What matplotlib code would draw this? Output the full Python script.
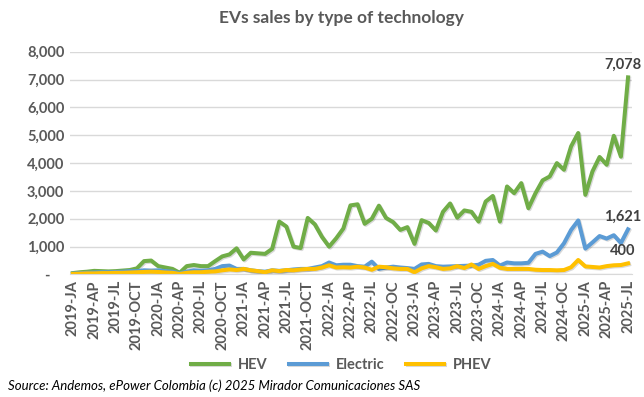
import matplotlib
matplotlib.use("Agg")
import matplotlib.pyplot as plt
import matplotlib.patheffects as pe
import numpy as np

plt.rcParams['font.family'] = ['Lato', 'DejaVu Sans']

hev = [50, 80, 100, 130, 120, 110, 120, 140, 160, 220, 480, 500,
       300, 250, 200, 60, 300, 340, 300, 300, 480, 650, 720, 940,
       540, 780, 760, 740, 920, 1900, 1720, 1000, 950, 2030, 1800, 1350,
       1000, 1300, 1650, 2480, 2520, 1820, 2000, 2470, 2030, 1880, 1600, 1700,
       1100, 1950, 1850, 1580, 2250, 2550, 2040, 2300, 2250, 1900, 2620, 2820,
       1900, 3160, 2920, 3280, 2380, 2920, 3380, 3520, 4000, 3760, 4600, 5080,
       2860, 3700, 4220, 3940, 4980, 4230, 7078]
electric = [30, 50, 60, 70, 80, 80, 90, 100, 120, 120, 150, 140,
            150, 120, 100, 40, 100, 150, 130, 150, 200, 300, 320, 200,
            200, 150, 120, 100, 150, 130, 150, 180, 200, 200, 250, 300,
            430, 330, 350, 350, 300, 280, 460, 200, 250, 280, 250, 230,
            200, 360, 380, 300, 280, 290, 300, 310, 320, 350, 490, 520,
            320, 430, 400, 400, 420, 740, 820, 660, 790, 1120, 1600, 1940,
            930, 1150, 1380, 1290, 1410, 1130, 1621]
phev = [20, 30, 40, 40, 50, 50, 60, 60, 70, 80, 90, 100,
        90, 70, 60, 20, 60, 80, 80, 100, 110, 150, 180, 160,
        200, 150, 120, 80, 150, 120, 160, 150, 180, 200, 200, 250,
        330, 250, 260, 250, 280, 250, 170, 280, 260, 220, 200, 200,
        80, 220, 300, 260, 200, 220, 300, 230, 360, 200, 300, 380,
        240, 200, 200, 200, 200, 170, 160, 160, 150, 160, 260, 520,
        290, 270, 250, 300, 330, 340, 400]

tick_labels = ["2019-JA", "2019-AP", "2019-JL", "2019-OCT",
               "2020-JA", "2020-AP", "2020-JL", "2020-OCT",
               "2021-JA", "2021-AP", "2021-JL", "2021-OCT",
               "2022-JA", "2022-AP", "2022-JL", "2022-OC",
               "2023-JA", "2023-AP", "2023-JL", "2023-OC",
               "2024-JA", "2024-AP", "2024-JL", "2024-OC",
               "2025-JA", "2025-AP", "2025-JL"]

series = [("HEV", hev, "#70AD47"), ("Electric", electric, "#5B9BD5"),
          ("PHEV", phev, "#FFC000")]
txt = "#595959"

fig = plt.figure(figsize=(6.44, 3.97), dpi=100)
ax = fig.add_axes([0.1087, 0.3086, 0.8727, 0.5612])

x = np.arange(len(hev))
shadow = [pe.SimpleLineShadow(offset=(0.8, -0.8), alpha=0.15), pe.Normal()]
for name, vals, col in series:
    ax.plot(x, vals, color=col, lw=2.9, label=name, solid_joinstyle='round',
            path_effects=shadow)

ax.set_xlim(-0.4, len(hev) - 1 + 0.56)
ax.set_ylim(0, 8000)
yt = np.arange(0, 8001, 1000)
ax.set_yticks(yt)
ax.set_yticklabels(["-    "] + [f"{v:,}" for v in yt[1:]], color=txt,
                   fontsize=10.5, fontweight='bold')
ax.set_xticks(x[::3])
ax.set_xticklabels(tick_labels, rotation=90, color=txt, fontsize=10.5,
                   fontweight='bold')
ax.tick_params(length=0, pad=4)
ax.grid(axis='y', color='#D9D9D9', lw=1)
ax.set_axisbelow(True)
for s in ['top', 'right', 'left']:
    ax.spines[s].set_visible(False)
ax.spines['bottom'].set_color('#D9D9D9')

# last value labels
for name, vals, col in series:
    ax.annotate(f"{vals[-1]:,}", (x[-1], vals[-1]), xytext=(-4, 4),
                textcoords='offset points', ha='center', va='bottom',
                fontsize=10.5, fontweight='bold', color='#404040')

fig.text(0.53, 0.955, "EVs sales by type of technology", ha='center',
         va='center', fontsize=12.5, fontweight='bold', color=txt)
fig.legend(loc='center', bbox_to_anchor=(0.53, 0.08), ncol=3, frameon=False,
           prop={'weight': 'bold', 'size': 10.5}, labelcolor=txt,
           handlelength=2.6, columnspacing=1.5, handletextpad=0.6)
fig.text(0.012, 0.028, "Source: Andemos, ePower Colombia (c) 2025 Mirador Comunicaciones SAS",
         ha='left', va='center', fontsize=9.5, style='italic', color='black')

fig.savefig("out.png", dpi=100)
